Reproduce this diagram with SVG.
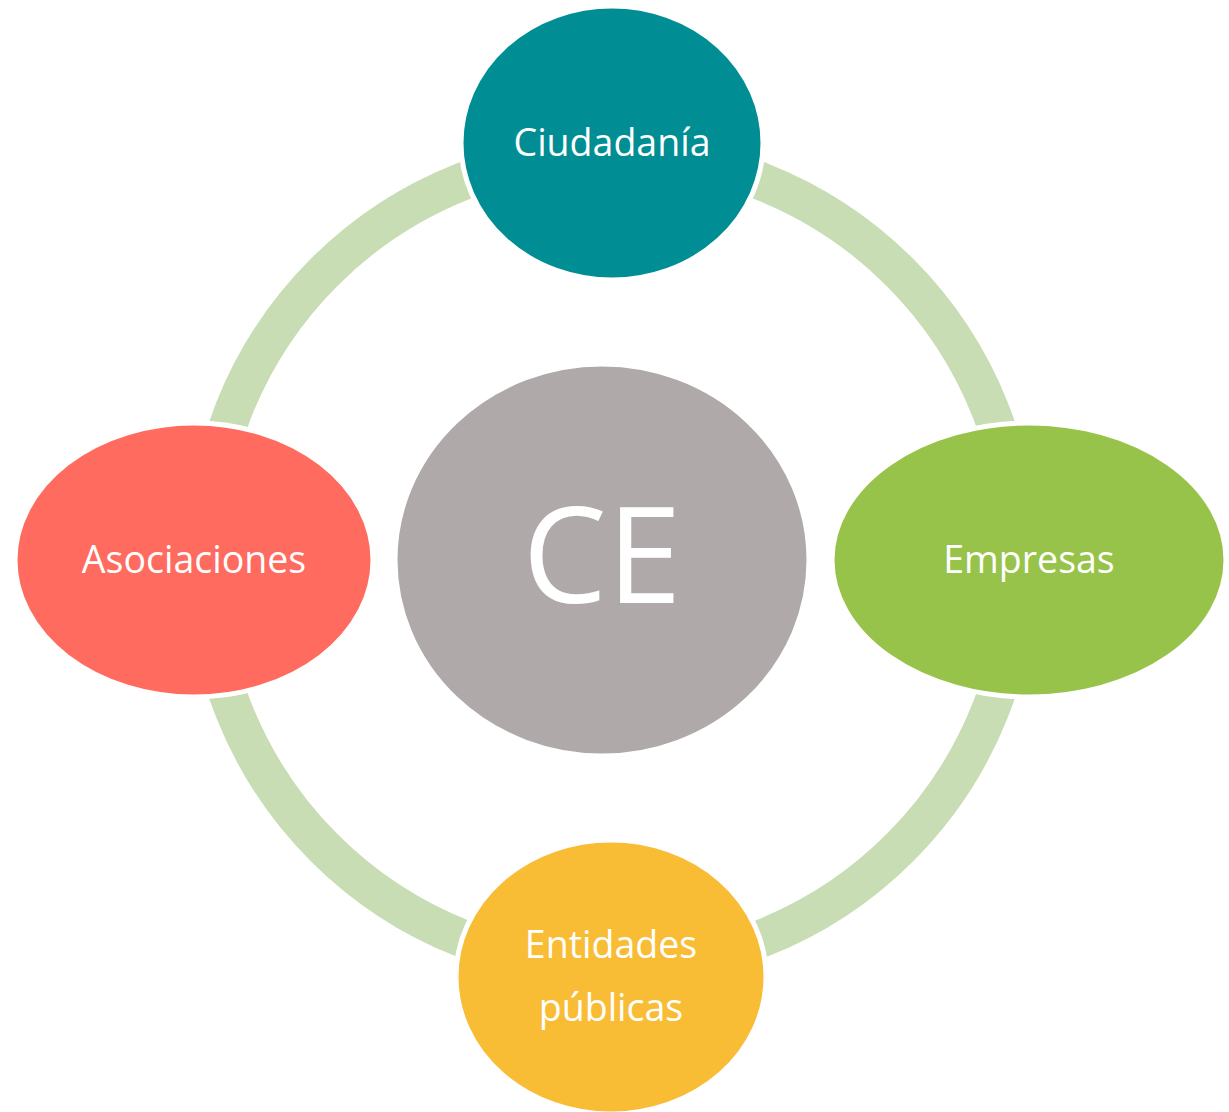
<svg xmlns="http://www.w3.org/2000/svg" width="1229" height="1112" viewBox="0 0 1229 1112">
<style>
.node{stroke:#FFFFFF;stroke-width:5}
.lbl{font-family:"Open Sans","Noto Sans","Liberation Sans",sans-serif;fill:#FFFFFF;text-anchor:middle;font-size:37.5px}
</style>
<rect width="1229" height="1112" fill="#FFFFFF"/>
<g id="connectors">
<circle cx="612" cy="560" r="407" fill="none" stroke="#C8DDB3" stroke-width="38"/>
</g>
<g id="node-ce">
<ellipse class="node" cx="602" cy="560" rx="207" ry="196" fill="#AFAAA9"/>
<text class="lbl" x="602" y="603" style="font-size:134px">CE</text>
</g>
<g id="node-ciudadania">
<ellipse class="node" cx="612" cy="143" rx="151" ry="137" fill="#008E94"/>
<text class="lbl" x="612" y="156">Ciudadanía</text>
</g>
<g id="node-empresas">
<ellipse class="node" cx="1029" cy="560" rx="197" ry="137" fill="#98C34A"/>
<text class="lbl" x="1029" y="573">Empresas</text>
</g>
<g id="node-asociaciones">
<ellipse class="node" cx="194" cy="560" rx="179" ry="137" fill="#FF6B5E"/>
<text class="lbl" x="194" y="573">Asociaciones</text>
</g>
<g id="node-entidades">
<ellipse class="node" cx="611" cy="977" rx="155" ry="137" fill="#F9BC35"/>
<text class="lbl" x="611" y="958">Entidades</text>
<text class="lbl" x="611" y="1021">públicas</text>
</g>
</svg>
